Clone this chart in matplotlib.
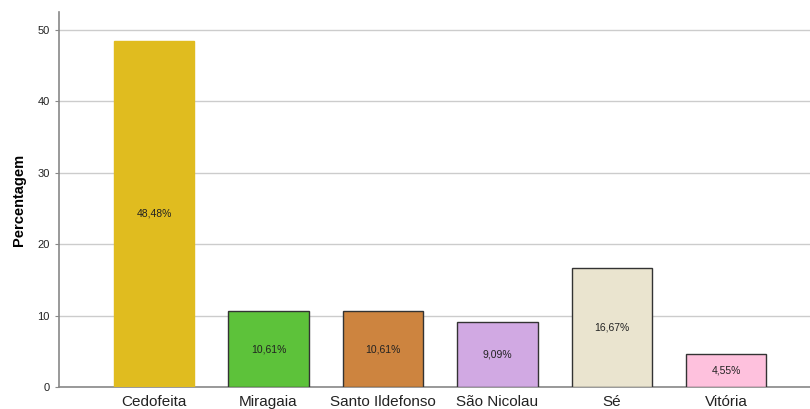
import matplotlib
matplotlib.use('Agg')
from matplotlib import pyplot as plt
import numpy as np

plt.rcParams['font.family'] = ['Liberation Sans', 'DejaVu Sans']

# data
freguesias = ['Cedofeita', 'Miragaia', 'Santo Ildefonso', 'São Nicolau', 'Sé', 'Vitória']
percentagens = [48.48, 10.61, 10.61, 9.09, 16.67, 4.55]
cores = ['#E0BC1F', '#5DC23A', '#CD843F', '#D1A9E3', '#EAE4CF', '#FEC1DD']
bordas = ['#E0BC1F', '#333333', '#333333', '#333333', '#333333', '#333333']

fig = plt.figure(figsize=(8.1, 4.09), dpi=100)
ax = fig.add_axes([0.0728, 0.0538, 0.9272, 0.917])

x = np.arange(len(freguesias))
ax.bar(x, percentagens, width=0.7, color=cores, edgecolor=bordas, linewidth=1, zorder=3)

for xi, val in zip(x, percentagens):
    ax.text(xi, val / 2, f"{val:.2f}%".replace('.', ','), ha='center', va='center',
            fontsize=7.5, color='#222222', zorder=4)

ax.set_xlim(-0.83, 5.73)
ax.set_ylim(0, 52.5)
ax.set_yticks(np.arange(0, 51, 10))
ax.set_xticks(x)
ax.set_xticklabels(freguesias, fontsize=11, color='#222222')
ax.tick_params(axis='y', labelsize=8, length=3, color='#888888', labelcolor='#222222')
ax.tick_params(axis='x', length=0, pad=6)
ax.yaxis.grid(True, color='#CCCCCC', linewidth=1, zorder=0)
ax.set_ylabel('Percentagem', fontsize=10.5, fontweight='bold', labelpad=8)

for side in ['top', 'right']:
    ax.spines[side].set_visible(False)
for side in ['left', 'bottom']:
    ax.spines[side].set_color('#888888')
    ax.spines[side].set_linewidth(1.2)

plt.savefig('out.png', dpi=100)
plt.close()
